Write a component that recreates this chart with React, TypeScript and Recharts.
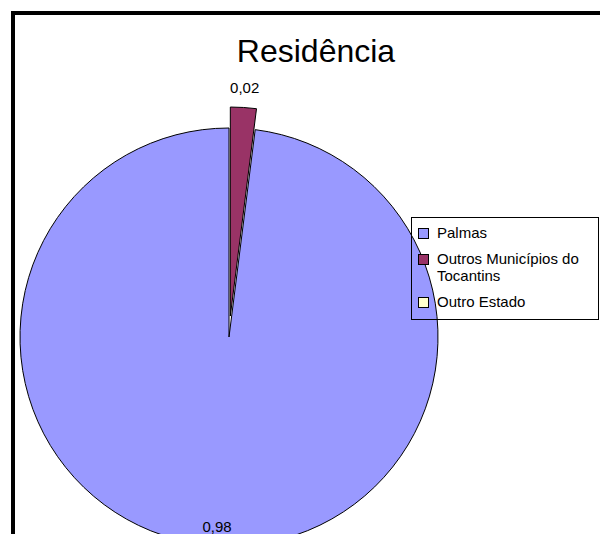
import React from "react";
import { PieChart, Pie, Cell, Legend } from "recharts";

const names = ["Palmas", "Outros Municípios do Tocantins", "Outro Estado"];
const values = [0.98, 0.02, 0];
const colors = ["#9999FF", "#993366", "#FFFFCC"];
const exploded = [false, true, false];

const data = names.map((n, i) => ({ name: n, value: values[i] }));

const RADIAN = Math.PI / 180;
const FONT = "'Liberation Sans', Arial, sans-serif";

// distance of the label from the rim: inside for the big slice, outside for the small one
function renderLabel(showExploded: boolean) {
  return (p: any) => {
    const i = p.index;
    if (exploded[i] !== showExploded || !values[i]) return null;
    const r = showExploded ? p.outerRadius + 20 : p.outerRadius - 19;
    const x = p.cx + r * Math.cos(-p.midAngle * RADIAN);
    const y = p.cy + r * Math.sin(-p.midAngle * RADIAN);
    return (
      <text x={x} y={y} textAnchor="middle" dominantBaseline="central"
        fill="#000" fontSize={15} fontFamily={FONT}>
        {values[i].toFixed(2).replace(".", ",")}
      </text>
    );
  };
}

function LegendBox() {
  return (
    <div style={{ border: "1px solid #000", padding: "6px 0 9px 6px", fontFamily: FONT, fontSize: 15, lineHeight: "17px", color: "#000" }}>
      {names.map((n, i) => (
        <div key={n} style={{ display: "flex", alignItems: "flex-start", marginTop: i ? 9 : 0 }}>
          <span style={{ width: 9, height: 9, marginTop: 4, marginRight: 8, flex: "none", background: colors[i], border: "1px solid #000" }} />
          <span style={{ width: 160 }}>{n}</span>
        </div>
      ))}
    </div>
  );
}

const CX = 229, CY = 337, R = 209, EXPLODE = 21;

export default function App() {
  // offset of the pulled-out slice along its mid angle
  const before = values.slice(0, 1).reduce((a, b) => a + b, 0);
  const total = values.reduce((a, b) => a + b, 0);
  const mid = 90 + 360 * (before + values[1] / 2) / total;
  const dx = EXPLODE * Math.cos(mid * RADIAN);
  const dy = -EXPLODE * Math.sin(mid * RADIAN);

  return (
    <div style={{ position: "absolute", left: 0, top: 0, width: 600, height: 534, overflow: "hidden", background: "#fff" }}>
      <div style={{ position: "absolute", left: 11, top: 11, width: 640, height: 600, borderTop: "4px solid #000", borderLeft: "4px solid #000" }} />
      <div style={{ position: "absolute", left: 216, top: 35, width: 200, textAlign: "center", fontFamily: FONT, fontSize: 32, lineHeight: "32px", color: "#000" }}>
        Residência
      </div>
      <div style={{ position: "absolute", left: 0, top: 0 }}>
        <PieChart width={600} height={534} margin={{ top: 0, right: 0, bottom: 0, left: 0 }}>
          <Pie data={data} dataKey="value" nameKey="name" cx={CX} cy={CY} outerRadius={R}
            startAngle={90} endAngle={450} isAnimationActive={false}
            label={renderLabel(false)} labelLine={false}>
            {data.map((d, i) => (
              <Cell key={d.name} fill={exploded[i] || !values[i] ? "none" : colors[i]}
                stroke={exploded[i] || !values[i] ? "none" : "#000"} strokeWidth={1} />
            ))}
          </Pie>
          <Pie data={data} dataKey="value" nameKey="name" cx={CX + dx} cy={CY + dy} outerRadius={R}
            startAngle={90} endAngle={450} isAnimationActive={false}
            label={renderLabel(true)} labelLine={false} legendType="none">
            {data.map((d, i) => (
              <Cell key={d.name} fill={exploded[i] ? colors[i] : "none"}
                stroke={exploded[i] ? "#000" : "none"} strokeWidth={1} />
            ))}
          </Pie>
          <Legend layout="vertical" align="right" verticalAlign="top"
            wrapperStyle={{ position: "absolute", left: 411, top: 217, width: 188 }}
            content={() => <LegendBox />} />
        </PieChart>
      </div>
    </div>
  );
}
